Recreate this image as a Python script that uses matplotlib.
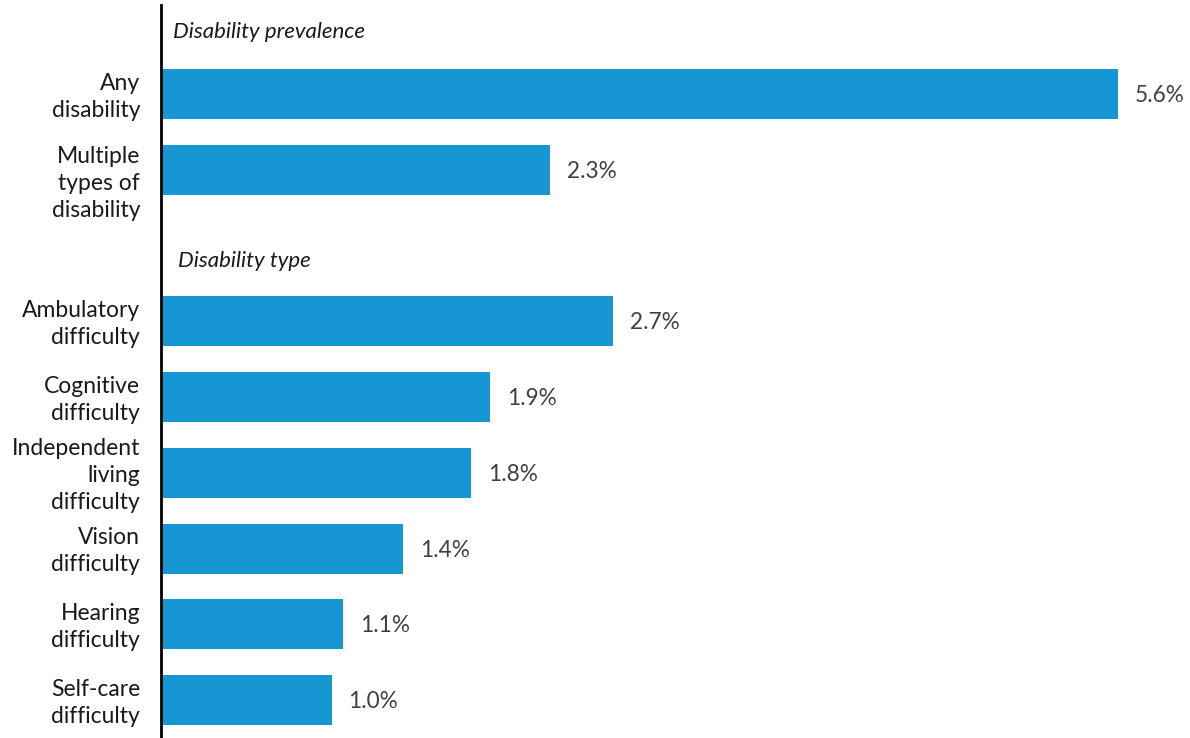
import matplotlib.pyplot as plt
from matplotlib.transforms import ScaledTranslation

plt.rcParams['font.family'] = ['Lato', 'DejaVu Sans']

# Data
categories = ['Any\ndisability', 'Multiple\ntypes of\ndisability',
              'Ambulatory\ndifficulty', 'Cognitive\ndifficulty',
              'Independent\nliving\ndifficulty', 'Vision\ndifficulty',
              'Hearing\ndifficulty', 'Self-care\ndifficulty']
values = [5.61, 2.28, 2.65, 1.93, 1.82, 1.42, 1.07, 1.00]
value_labels = ['5.6%', '2.3%', '2.7%', '1.9%', '1.8%', '1.4%', '1.1%', '1.0%']
slots = [0, 1, 3, 4, 5, 6, 7, 8]
headings = ['Disability prevalence', 'Disability type']
heading_slots = [-0.82, 2.21]

blue = '#1696d2'

fig = plt.figure(figsize=(11.9, 7.38), dpi=100)
ax = fig.add_axes([161 / 1190, 0, 1029 / 1190, 733 / 738])

ax.barh(slots, values, height=0.66, color=blue)
for s, v, lab in zip(slots, values, value_labels):
    ax.text(v + 0.1, s + 0.02, lab, va='center', ha='left', fontsize=16.3,
            color='#404040')

ax.text(0.07, heading_slots[0], headings[0], style='italic', fontsize=16,
        va='center', ha='left', color='#1a1a1a')
ax.text(0.1, heading_slots[1], headings[1], style='italic', fontsize=16,
        va='center', ha='left', color='#1a1a1a')

ax.set_yticks(slots)
ax.set_yticklabels(categories, fontsize=16.5, color='#1a1a1a', linespacing=1.36)
ax.tick_params(axis='y', length=0, pad=15)
ax.set_xticks([])
ax.set_xlim(0, 1029 / 170.5)
ax.set_ylim(8.5, -1.175)

# nudge labels up a touch; the three-line label in the first group sits lower
for i, lbl in enumerate(ax.get_yticklabels()):
    dy = -0.085 if i == 1 else 0.025
    lbl.set_transform(lbl.get_transform() + ScaledTranslation(0, dy, fig.dpi_scale_trans))

for side in ['top', 'right', 'bottom']:
    ax.spines[side].set_visible(False)
ax.spines['left'].set_linewidth(2)
ax.spines['left'].set_color('#000000')

fig.savefig('out.png', dpi=100)
